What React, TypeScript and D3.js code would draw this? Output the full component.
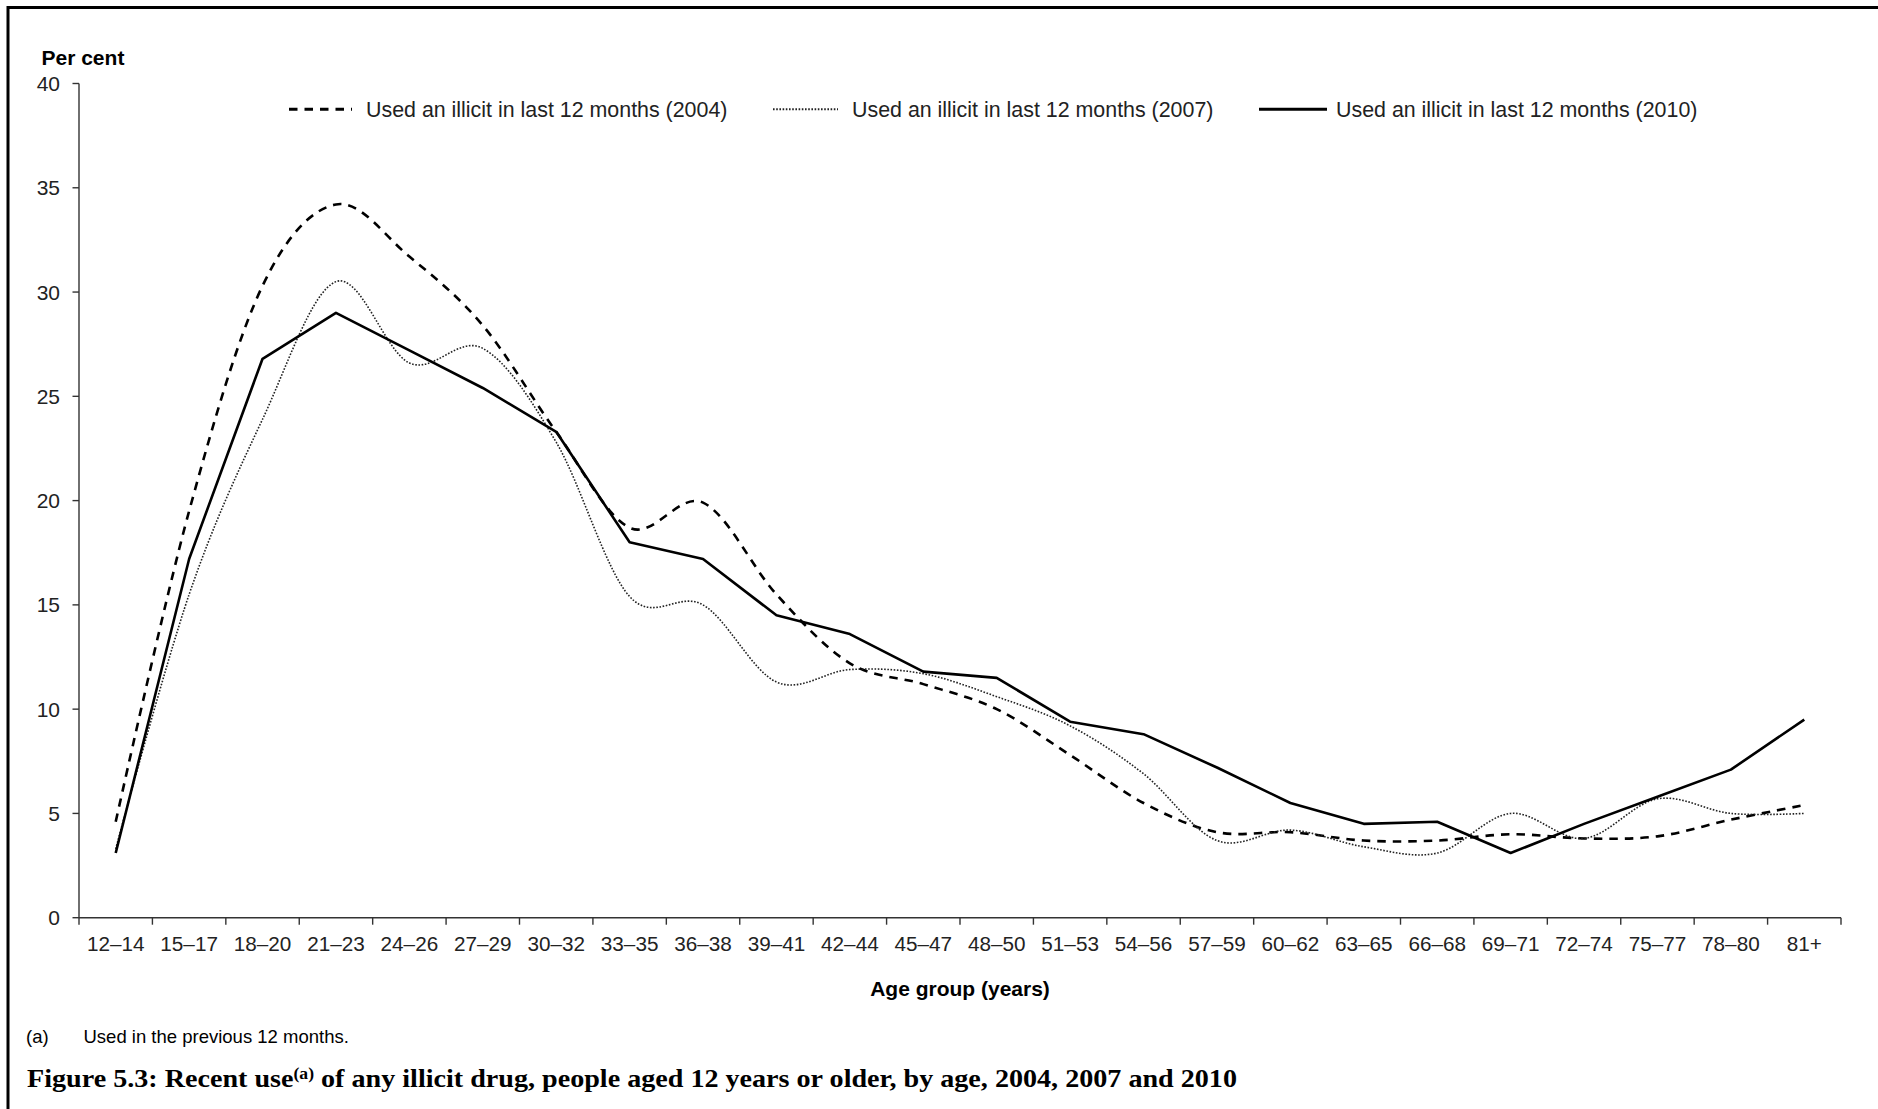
import React from "react";
import * as d3 from "d3";

const categories = ["12–14","15–17","18–20","21–23","24–26","27–29","30–32","33–35","36–38","39–41","42–44","45–47","48–50","51–53","54–56","57–59","60–62","63–65","66–68","69–71","72–74","75–77","78–80","81+"];
const values2004 = [4.6,19.5,30.3,34.2,31.7,28.4,23.3,18.7,19.9,15.5,12.2,11.2,10.0,7.8,5.5,4.1,4.1,3.7,3.7,4.0,3.8,3.9,4.7,5.4];
const values2007 = [3.3,15.5,23.9,30.5,26.6,27.3,22.8,15.4,15.0,11.3,11.9,11.7,10.6,9.2,6.9,3.7,4.2,3.4,3.1,5.0,3.8,5.7,5.0,5.0];
const values2010 = [3.1,17.2,26.8,29.0,27.2,25.4,23.3,18.0,17.2,14.5,13.6,11.8,11.5,9.4,8.8,7.2,5.5,4.5,4.6,3.1,4.5,5.8,7.1,9.5];
const yTicks = [0,5,10,15,20,25,30,35,40];
const legendLabels = [
  "Used an illicit in last 12 months (2004)",
  "Used an illicit in last 12 months (2007)",
  "Used an illicit in last 12 months (2010)",
];

const W = 1878, H = 1109;
const X0 = 79, X1 = 1841, Y0 = 917.7, Y1 = 83.5;
const SANS = "'Liberation Sans', Arial, sans-serif";

export default function App() {
  const x = d3.scaleBand<string>().domain(categories).range([X0, X1]).paddingInner(0).paddingOuter(0);
  const y = d3.scaleLinear().domain([0, 40]).range([Y0, Y1]);
  const cx = (c: string) => (x(c) as number) + x.bandwidth() / 2;

  const smooth = d3.line<number>().x((_, i) => cx(categories[i])).y((d) => y(d)).curve(d3.curveCardinal.tension(0));
  const straight = d3.line<number>().x((_, i) => cx(categories[i])).y((d) => y(d));

  const series = [
    { label: legendLabels[0], path: smooth(values2004), dash: "8.5,7", sw: 2.6, color: "#000", lx0: 289, lx1: 352, tx: 366 },
    { label: legendLabels[1], path: smooth(values2007), dash: "1.6,1.6", sw: 1.6, color: "#222", lx0: 773, lx1: 838, tx: 852 },
    { label: legendLabels[2], path: straight(values2010), dash: "", sw: 2.6, color: "#000", lx0: 1259, lx1: 1327, tx: 1336 },
  ];

  const boundaries = categories.map((c) => x(c) as number).concat([X1]);

  return (
    <svg width={W} height={H} viewBox={`0 0 ${W} ${H}`} style={{ position: "absolute", left: 0, top: 0, display: "block", background: "#fff" }}>
      <rect x={0} y={0} width={W} height={H} fill="#fff" />
      <path d={`M8,${H} V7.5 H${W}`} fill="none" stroke="#000" strokeWidth={3} />

      {/* y axis */}
      <line x1={X0} x2={X0} y1={Y1} y2={Y0} stroke="#333" strokeWidth={1.4} />
      {yTicks.map((t) => (
        <g key={t}>
          <line x1={X0 - 6.5} x2={X0} y1={y(t)} y2={y(t)} stroke="#333" strokeWidth={1.4} />
          <text x={60} y={y(t) + 7.5} textAnchor="end" fontFamily={SANS} fontSize={21} fill="#222">{t}</text>
        </g>
      ))}
      <text x={41.5} y={65} fontFamily={SANS} fontSize={21} fontWeight="bold" fill="#000">Per cent</text>

      {/* x axis */}
      <line x1={X0} x2={X1} y1={Y0} y2={Y0} stroke="#333" strokeWidth={1.4} />
      {boundaries.map((b, i) => (
        <line key={i} x1={b} x2={b} y1={Y0} y2={Y0 + 7} stroke="#333" strokeWidth={1.4} />
      ))}
      {categories.map((c) => (
        <text key={c} x={cx(c)} y={951} textAnchor="middle" fontFamily={SANS} fontSize={20.7} fill="#222">{c}</text>
      ))}
      <text x={(X0 + X1) / 2} y={996} textAnchor="middle" fontFamily={SANS} fontSize={21} fontWeight="bold" fill="#000">Age group (years)</text>

      {/* lines */}
      {series.map((s, i) => (
        <path key={i} d={s.path || ""} fill="none" stroke={s.color} strokeWidth={s.sw} strokeDasharray={s.dash || undefined} strokeLinejoin="round" />
      ))}

      {/* legend */}
      {series.map((s, i) => (
        <g key={i}>
          <line x1={s.lx0} x2={s.lx1} y1={109.3} y2={109.3} stroke={s.color} strokeWidth={i === 1 ? 2 : 3} strokeDasharray={s.dash || undefined} />
          <text x={s.tx} y={116.8} fontFamily={SANS} fontSize={21.4} fill="#222">{s.label}</text>
        </g>
      ))}

      {/* footnote and title */}
      <text x={26} y={1042.5} fontFamily={SANS} fontSize={18.5} fill="#000">(a)</text>
      <text x={83.5} y={1042.5} fontFamily={SANS} fontSize={18.5} fill="#000">Used in the previous 12 months.</text>
      <text x={27} y={1087} fontFamily="'Liberation Serif', 'Times New Roman', serif" fontSize={25.5} fontWeight="bold" fill="#000" textLength={1210} lengthAdjust="spacingAndGlyphs">
        <tspan>Figure 5.3: Recent use</tspan>
        <tspan fontSize={16} dy={-8}>(a)</tspan>
        <tspan dy={8}> of any illicit drug, people aged 12 years or older, by age, 2004, 2007 and 2010</tspan>
      </text>
    </svg>
  );
}
